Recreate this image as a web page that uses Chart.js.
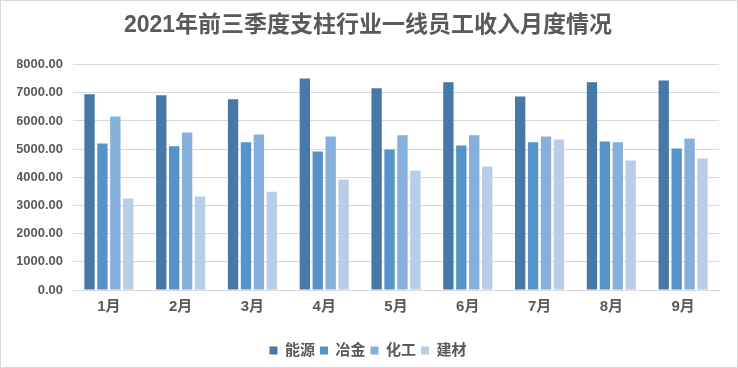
<!DOCTYPE html>
<html>
<head>
<meta charset="utf-8">
<script src="https://cdn.jsdelivr.net/npm/chart.js@4.4.1/dist/chart.umd.min.js"></script>
<style>
  html, body { margin: 0; padding: 0; background: #ffffff; }
  #wrap { width: 738px; height: 368px; position: relative; }
</style>
</head>
<body>
<div id="wrap"><canvas id="c" width="738" height="368"></canvas></div>
<script>
const categories = ['1月', '2月', '3月', '4月', '5月', '6月', '7月', '8月', '9月'];
const seriesNames = ['能源', '冶金', '化工', '建材'];
const energy = [6950, 6910, 6770, 7510, 7160, 7370, 6870, 7370, 7440];
const metallurgy = [5200, 5100, 5240, 4920, 4990, 5130, 5240, 5270, 5020];
const chemical = [6160, 5590, 5520, 5450, 5490, 5490, 5450, 5240, 5380];
const building = [3250, 3320, 3490, 3920, 4240, 4380, 5340, 4600, 4670];
const yTicks = [0, 1000, 2000, 3000, 4000, 5000, 6000, 7000, 8000];
const titleText = '2021年前三季度支柱行业一线员工收入月度情况';

const colors = ['#4679A8', '#5593C9', '#86AFDB', '#B8CDE8'];
const fam = '"Liberation Sans", "Noto Sans CJK SC", sans-serif';
const txt = '#595959';

const borderPlugin = {
  id: 'frame',
  beforeDraw(chart) {
    const ctx = chart.ctx;
    ctx.save();
    ctx.fillStyle = '#ffffff';
    ctx.fillRect(0, 0, chart.width, chart.height);
    ctx.restore();
  },
  afterDraw(chart) {
    const ctx = chart.ctx;
    ctx.save();
    ctx.strokeStyle = '#D9D9D9';
    ctx.lineWidth = 1;
    ctx.strokeRect(0.5, 0.5, chart.width - 1, chart.height - 1);
    ctx.restore();
  }
};

const seriesData = [energy, metallurgy, chemical, building];

new Chart(document.getElementById('c'), {
  type: 'bar',
  data: {
    labels: categories,
    datasets: seriesNames.map((n, i) => ({
      label: n,
      data: seriesData[i],
      backgroundColor: colors[i],
      borderWidth: 0,
      categoryPercentage: 0.72,
      barPercentage: 0.8
    }))
  },
  options: {
    responsive: false,
    animation: false,
    devicePixelRatio: 1,
    layout: { padding: { left: 17, right: 19, top: 0, bottom: 0 } },
    plugins: {
      title: {
        display: true,
        text: titleText,
        color: txt,
        font: { family: fam, size: 23, weight: 'bold' },
        padding: { top: 12, bottom: 25 }
      },
      legend: {
        display: true,
        position: 'bottom',
        labels: {
          color: txt,
          font: { family: fam, size: 15, weight: 'bold' },
          boxWidth: 8,
          boxHeight: 8,
          padding: 5
        }
      },
      tooltip: { enabled: false }
    },
    scales: {
      x: {
        afterFit(s) { s.height += 14; },
        grid: { display: false, drawTicks: false },
        border: { display: true, color: '#D9D9D9' },
        ticks: { color: txt, font: { family: fam, size: 15, weight: 'bold' }, padding: 8 }
      },
      y: {
        min: 0,
        max: 8000,
        afterFit(s) { s.width = 56; },
        afterBuildTicks(s) { s.ticks = yTicks.map(v => ({ value: v })); },
        grid: { color: '#D9D9D9', drawTicks: false },
        border: { display: false },
        ticks: {
          color: txt,
          font: { family: fam, size: 13, weight: 'bold' },
          padding: 10,
          callback: v => Number(v).toFixed(2)
        }
      }
    }
  },
  plugins: [borderPlugin]
});
</script>
</body>
</html>
